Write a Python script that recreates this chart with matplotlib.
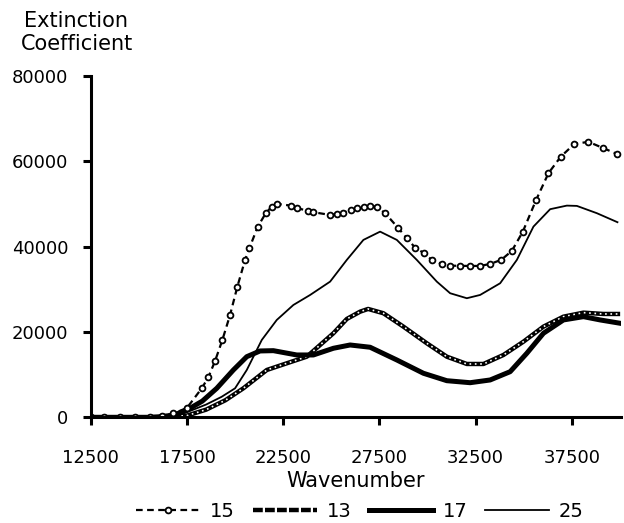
import numpy as np
import matplotlib
matplotlib.use("Agg")
import matplotlib.pyplot as plt
from matplotlib.lines import Line2D

# series (wavenumber, extinction coefficient)
x15 = [12500, 13200, 14000, 14800, 15600, 16200, 16800, 17500, 18270, 18613, 18961, 19341, 19741,
       20120, 20521, 20744, 21181, 21597, 21908, 22199, 22896, 23208, 23780, 24071, 24939,
       25300, 25630, 26000, 26327, 26700, 27018, 27366, 27798, 28489, 28925, 29357, 29825, 30225,
       30745, 31177, 31700, 32216, 32736, 33256, 33827, 34384, 34955, 35647, 36286, 36930,
       37637, 38365, 39145, 39872]
y15 = [0, 0, 0, 0, 100, 300, 900, 2200, 6800, 9380, 13200, 18130, 23990,
       30630, 36890, 39630, 44700, 47840, 49390, 50020, 49620, 49010, 48450, 48070, 47440,
       47600, 47980, 48500, 49010, 49300, 49620, 49300, 47840, 44320, 41980, 39770, 38460, 36890,
       35950, 35550, 35500, 35480, 35480, 35950, 36890, 39000, 43520, 50960, 57220, 61110,
       64090, 64560, 63080, 61670]

x13 = [12500, 14000, 15500, 16500, 17500, 18500, 19500, 20432, 21649, 22688, 23728, 24419,
       25111, 25807, 26498, 26914, 27710, 28749, 29965, 31005, 32045, 32910, 33947, 34987,
       36026, 37066, 38105, 39145, 40012]
y13 = [0, 0, 0, 100, 400, 1800, 4000, 6800, 11090, 12660, 14210, 16950,
       19700, 23050, 24760, 25400, 24390, 21250, 17350, 14210, 12500, 12500, 14610, 17730,
       21250, 23590, 24530, 24220, 24220]

x17 = [12500, 14000, 15500, 16000, 16800, 17500, 18300, 19050, 19912, 20609, 21300, 21991,
       23208, 24071, 25111, 25978, 27018, 28406, 29789, 31005, 32216, 33256, 34295, 35163,
       36026, 37066, 38105, 38973, 40012]
y17 = [0, 0, 0, 100, 500, 1700, 3800, 6800, 11090, 14210, 15550, 15620,
       14610, 14610, 16180, 16950, 16420, 13440, 10320, 8580, 8110, 8750, 10690, 15010,
       19700, 22820, 23590, 22820, 22040]

x25 = [12500, 14000, 15500, 16200, 17000, 17500, 18500, 19300, 20001, 20609, 21389, 22168,
       23031, 23899, 24939, 25807, 26670, 27538, 28406, 29445, 30485, 31177, 32045, 32736,
       33776, 34644, 35507, 36375, 37242, 37762, 38802, 39872]
y25 = [0, 0, 0, 100, 500, 1200, 3000, 4800, 6800, 11090, 18130, 22820,
       26330, 28670, 31800, 36890, 41580, 43520, 41580, 36890, 31800, 29080, 27910, 28680,
       31420, 36890, 44700, 48780, 49620, 49550, 47840, 45730]

xticks = [12500, 17500, 22500, 27500, 32500, 37500]
yticks = [0, 20000, 40000, 60000, 80000]

plt.rcParams['font.family'] = ['DejaVu Sans']

fig = plt.figure(figsize=(6.24, 5.23), dpi=100)
ax = fig.add_axes([0.1454, 0.2021, 0.8496, 0.6526])

# 13: thick black line with white flecks
ax.plot(x13, y13, color='black', lw=3.2, solid_capstyle='butt')
ax.plot(x13, y13, color='white', lw=1.2, dashes=(1, 2.2))
# 17: heavy solid
ax.plot(x17, y17, color='black', lw=3.6)
# 25: thin solid
ax.plot(x25, y25, color='black', lw=1.3)
# 15: dashed with open circles
ax.plot(x15, y15, color='black', lw=1.6, dashes=(3, 2),
        marker='o', ms=4.2, mfc='white', mec='black', mew=1.3)

ax.set_xlim(12500, 40050)
ax.set_ylim(0, 80000)
ax.set_xticks(xticks)
ax.set_yticks(yticks)
ax.set_xticklabels([str(v) for v in xticks])
ax.set_yticklabels([str(v) for v in yticks])

for s in ['top', 'right']:
    ax.spines[s].set_visible(False)
for s in ['left', 'bottom']:
    ax.spines[s].set_linewidth(2.2)
ax.tick_params(axis='both', direction='out', length=6, width=2.2, labelsize=13)
ax.tick_params(axis='x', pad=17)
ax.tick_params(axis='y', pad=10)

# axis titles
fig.text(0.5705, 0.080, "Wavenumber", fontsize=15, ha='center', va='center')
fig.text(0.122, 0.960, "Extinction", fontsize=15, ha='center', va='center')
fig.text(0.123, 0.916, "Coefficient", fontsize=15, ha='center', va='center')

handles = [
    Line2D([], [], color='black', lw=1.6, dashes=(3, 2), marker='o', ms=4.2,
           mfc='white', mec='black', mew=1.3),
    Line2D([], [], color='black', lw=3.2, dashes=(2.2, 0.5)),
    Line2D([], [], color='black', lw=3.6),
    Line2D([], [], color='black', lw=1.3),
]
fig.legend(handles, ['15', '13', '17', '25'], loc='center', ncol=4, frameon=False,
           bbox_to_anchor=(0.577, 0.022), fontsize=14, handlelength=3.3,
           columnspacing=0.9, handletextpad=0.5, numpoints=1, borderpad=0)

fig.savefig("out.png", dpi=100)
